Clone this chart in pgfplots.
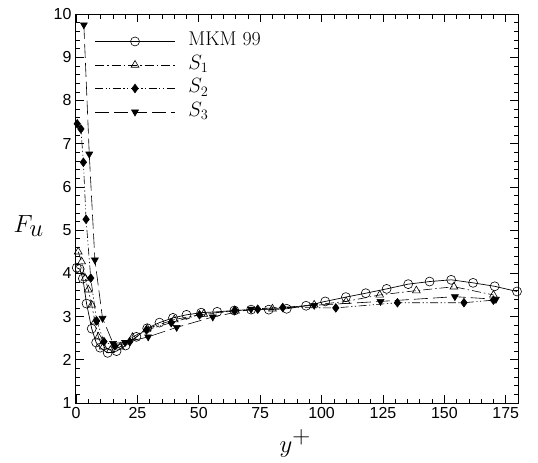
\documentclass[border=0pt]{standalone}
\usepackage{fontspec}
\usepackage{pgfplots}
\pgfplotsset{compat=1.18}
\newfontfamily\arial{Liberation Sans}

\begin{document}
\begin{tikzpicture}
\begin{axis}[
  scale only axis,
  width=442bp, height=389bp,
  xmin=0, xmax=180, ymin=1, ymax=10,
  xtick={0,25,...,175}, ytick={1,2,...,10},
  minor x tick num=4, minor y tick num=4,
  tick align=inside,
  major tick length=8bp, minor tick length=4.5bp,
  every tick/.style={black, line width=0.6bp},
  axis line style={line width=1bp},
  /pgf/number format/assume math mode=true,
  ticklabel style={font=\arial\fontsize{16}{18}\selectfont},
  xticklabel style={yshift=-1bp},
  yticklabel style={xshift=-1bp},
  xlabel={$y^+$}, ylabel={$F_u$},
  label style={font=\fontsize{33}{36}\selectfont},
  xlabel style={at={(axis description cs:0.496,-0.105)}, anchor=center},
  ylabel style={rotate=-90, at={(axis description cs:-0.107,0.455)}, anchor=center},
  legend image code/.code={%
    \draw[mark repeat=2,mark phase=2,#1] plot coordinates {(0bp,0bp) (40bp,0bp) (80bp,0bp)};},
  legend style={draw=none, fill=none, at={(axis description cs:0.035,0.962)}, anchor=north west,
    font=\fontsize{20}{22}\selectfont, row sep=2.5bp, column sep=12bp,
    nodes={text height=14bp, text depth=5bp, inner sep=1bp}},
  legend cell align=left,
]
\addplot[black, line width=0.7bp, mark=o, mark size=4.5bp, mark options={solid, line width=0.6bp}] coordinates {
(0.3,4.13)(1.5,4.10)(2.8,3.88)(4.3,3.30)(6.4,2.72)(8.2,2.40)(9.8,2.28)(12.9,2.16)(16.5,2.20)(20.2,2.33)(24.6,2.53)(29,2.73)(34,2.86)(39.5,2.97)(45,3.04)(51,3.09)(57.5,3.11)(64.5,3.14)(71.3,3.16)(78.5,3.16)(85.8,3.18)(93.7,3.25)(101.5,3.35)(109.9,3.45)(118,3.54)(126.5,3.64)(135.3,3.75)(144,3.81)(152.8,3.85)(161.7,3.78)(170.5,3.70)(179.6,3.58)};
\addlegendentry{MKM 99}
\addplot[black, line width=0.6bp, dash pattern=on 9bp off 3bp on 1.5bp off 3bp, mark=triangle, mark size=4.5bp, mark options={solid, line width=0.6bp}] coordinates {
(0.9,4.50)(2.3,4.27)(3.7,3.89)(5.0,3.62)(6.4,3.27)(7.7,2.88)(9.1,2.53)(11.1,2.30)(14,2.22)(18,2.30)(23,2.52)(29,2.72)(40,2.93)(52,3.06)(65,3.13)(80,3.18)(97,3.27)(110,3.35)(123.7,3.50)(138.6,3.60)(153.9,3.69)(170,3.50)};
\addlegendentry{$S_1$}
\addplot[black, line width=0.6bp, dash pattern=on 8bp off 2.5bp on 1.2bp off 2.5bp on 1.2bp off 2.5bp, mark=diamond*, mark size=4.3bp, mark options={solid}] coordinates {
(0.5,7.46)(2,7.34)(3,6.57)(4.1,5.25)(6,3.89)(8.4,2.90)(11.4,2.42)(15.8,2.32)(21.9,2.42)(28.7,2.69)(38.8,2.86)(50.3,3.04)(64.6,3.14)(74,3.17)(84.2,3.21)(105.8,3.20)(130.9,3.32)(158,3.32)(170,3.38)};
\addlegendentry{$S_2$}
\addplot[black, line width=0.6bp, dash pattern=on 14bp off 5bp, mark=triangle*, mark size=4bp, mark options={solid, rotate=180}] coordinates {
(3.2,9.75)(5.4,6.76)(7.7,4.31)(10.8,2.96)(15.1,2.38)(20,2.40)(29.4,2.53)(41,2.75)(55.7,2.99)(71.3,3.17)(97,3.26)(124,3.35)(154.3,3.46)(171,3.40)};
\addlegendentry{$S_3$}
\end{axis}
\pgfresetboundingbox
\path[use as bounding box] ([xshift=-76bp,yshift=-60bp]current axis.south west) rectangle ([xshift=20bp,yshift=14bp]current axis.north east);
\end{tikzpicture}
\end{document}
